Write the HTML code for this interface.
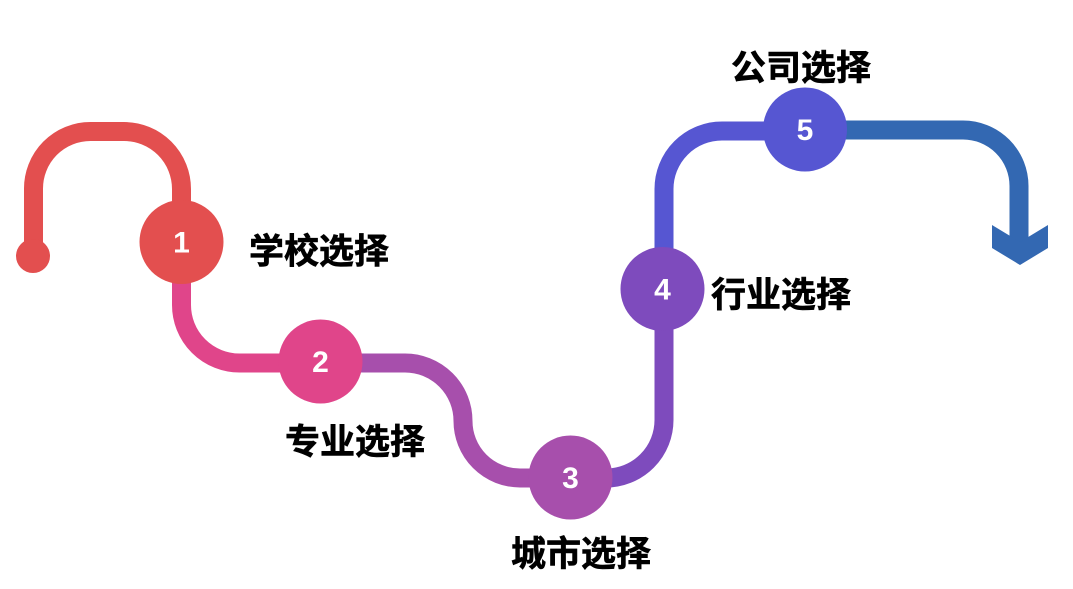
<!DOCTYPE html>
<html>
<head>
<meta charset="utf-8">
<style>
  html, body { margin:0; padding:0; background:#ffffff; }
  body { width:1073px; height:589px; overflow:hidden; }
  svg { display:block; }
  .lbl { font-family:"Liberation Sans","Noto Sans CJK SC",sans-serif; font-weight:bold; font-size:35px; fill:#000; stroke:#000; stroke-width:0.6px; }
  .num { font-family:"Liberation Sans","DejaVu Sans",sans-serif; font-weight:bold; font-size:30px; fill:#fff; text-anchor:middle; }
</style>
</head>
<body>
<svg width="1073" height="589" viewBox="0 0 1073 589" xmlns="http://www.w3.org/2000/svg">
  <g fill="none" stroke-width="19" stroke-linecap="butt">
    <path d="M33.5,256 V189 A57,57 0 0 1 90.5,131.5 H124 A57.5,57.5 0 0 1 181.5,189 V242" stroke="#E34F4F"/>
    <path d="M181.5,242 V305 A58,58 0 0 0 239.5,363 H320" stroke="#E0458A"/>
    <path d="M320,363 H405 A58,58 0 0 1 463,421 A57,57 0 0 0 520,478 H570" stroke="#A74FAC"/>
    <path d="M570,478 H606 A58,58 0 0 0 664,420 V289" stroke="#7E4BBD"/>
    <path d="M664,289 V189 A58,58 0 0 1 722,131 H805" stroke="#5656D2"/>
    <path d="M805,130 H963 A56,56 0 0 1 1019,186 V242" stroke="#3368B2"/>
  </g>
  <polygon points="992,225 1020,242 1048,225 1048,248 1020,265 992,248" fill="#3368B2"/>
  <circle cx="33" cy="256" r="17" fill="#E34F4F"/>
  <circle cx="181.5" cy="242" r="42" fill="#E34F4F"/>
  <circle cx="320.5" cy="361.5" r="42" fill="#E0458A"/>
  <circle cx="570.5" cy="477.5" r="42" fill="#A74FAC"/>
  <circle cx="662.5" cy="289" r="42" fill="#7E4BBD"/>
  <circle cx="805" cy="129.5" r="42" fill="#5656D2"/>

  <text class="num" x="181.5" y="252.5">1</text>
  <text class="num" x="320.5" y="372">2</text>
  <text class="num" x="570.5" y="488">3</text>
  <text class="num" x="662.5" y="299.5">4</text>
  <text class="num" x="805" y="140">5</text>

  <text class="lbl" x="249" y="263.5">学校选择</text>
  <text class="lbl" x="285" y="454">专业选择</text>
  <text class="lbl" x="511" y="566">城市选择</text>
  <text class="lbl" x="711" y="307">行业选择</text>
  <text class="lbl" x="731" y="80">公司选择</text>
</svg>
</body>
</html>
